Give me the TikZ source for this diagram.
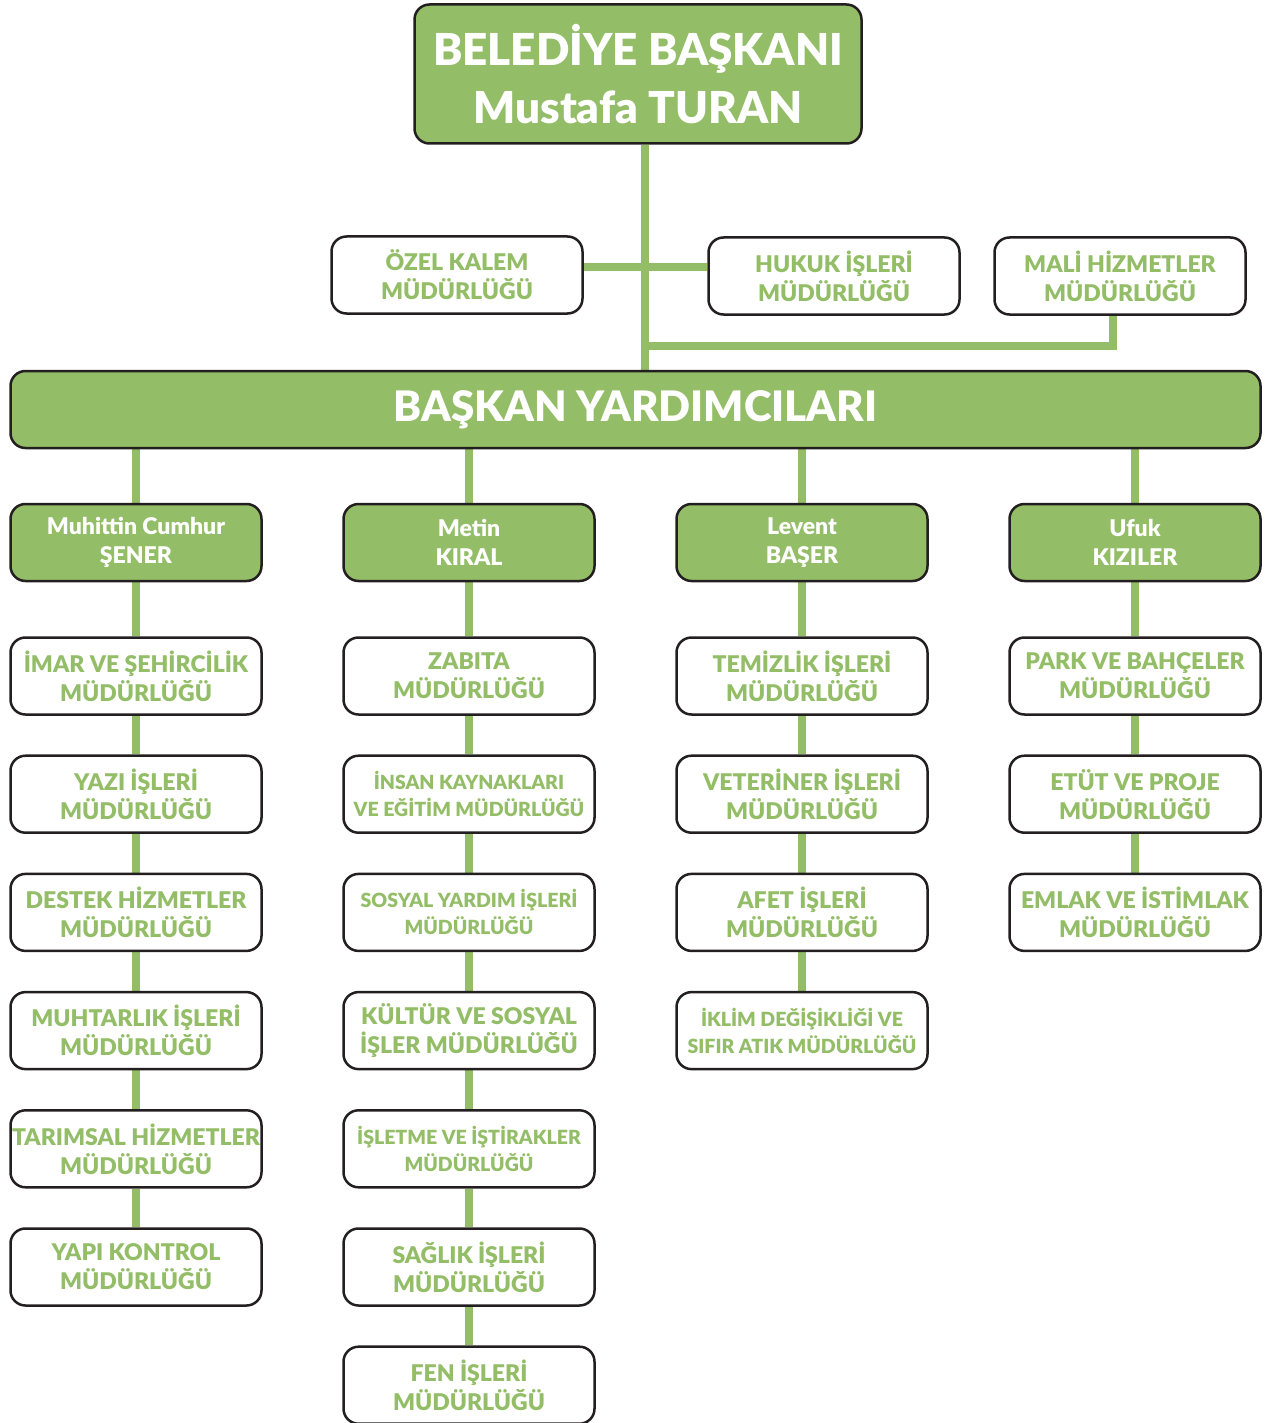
\documentclass[tikz,border=0pt]{standalone}
\usepackage{fontspec}
\setmainfont{Lato}[BoldFont={Lato Black}]
\usepackage{xcolor}
\usepackage{tikz}
\usetikzlibrary{positioning,calc,backgrounds}

\definecolor{orgGreen}{HTML}{93BD66}
\definecolor{orgEdge}{HTML}{231F20}

\begin{document}
\begin{tikzpicture}[
				x=1pt, y=-1pt,
				node distance=38.7pt,
				box/.style={
					rectangle, rounded corners=15pt,
					draw=orgEdge, line width=2.5pt,
					minimum width=251pt, minimum height=77pt,
					inner sep=0pt, align=center,
					font=\bfseries\fontsize{23}{29}\selectfont
				},
				headbox/.style={box, fill=orgGreen, text=white},
				unitbox/.style={box, fill=white, text=orgGreen},
				smallunit/.style={unitbox, font=\bfseries\fontsize{19.5}{27}\selectfont},
				link/.style={draw=orgGreen, line width=8pt}
				]
				\useasboundingbox (0,0) rectangle (1269,1423);
				
				% Başkan
				\node[headbox, minimum width=447pt, minimum height=139pt,
					font=\bfseries\fontsize{44}{58}\selectfont] (boss) at (638,74)
					{BELEDİYE BAŞKANI\\Mustafa TURAN};
				
				% Doğrudan bağlı müdürlükler
				\node[unitbox] (ozel) at (457,275) {ÖZEL KALEM\\MÜDÜRLÜĞÜ};
				\node[unitbox] (hukuk) at (834,276) {HUKUK İŞLERİ\\MÜDÜRLÜĞÜ};
				\node[unitbox] (mali) at (1120,276) {MALİ HİZMETLER\\MÜDÜRLÜĞÜ};
				
				% Başkan yardımcıları şeridi
				\node[headbox, minimum width=1250pt, minimum height=77pt,
					font=\bfseries\fontsize{42}{50}\selectfont] (vice) at (635.5,409.5)
					{BAŞKAN YARDIMCILARI};
				
				% Yardımcılar
				\node[headbox] (h1) at (136,542.5) {Muhittin Cumhur\\ŞENER};
				\node[headbox] (h2) at (469,542.5) {Metin\\KIRAL};
				\node[headbox] (h3) at (802,542.5) {Levent\\BAŞER};
				\node[headbox] (h4) at (1135,542.5) {Ufuk\\KIZILER};
				
				% 1. sütun
				\node[unitbox, below=54pt of h1] (u11) {İMAR VE ŞEHİRCİLİK\\MÜDÜRLÜĞÜ};
				\node[unitbox, below=of u11] (u12) {YAZI İŞLERİ\\MÜDÜRLÜĞÜ};
				\node[unitbox, below=of u12] (u13) {DESTEK HİZMETLER\\MÜDÜRLÜĞÜ};
				\node[unitbox, below=of u13] (u14) {MUHTARLIK İŞLERİ\\MÜDÜRLÜĞÜ};
				\node[unitbox, below=of u14] (u15) {TARIMSAL HİZMETLER\\MÜDÜRLÜĞÜ};
				\node[unitbox, below=of u15] (u16) {YAPI KONTROL\\MÜDÜRLÜĞÜ};
				
				% 2. sütun
				\node[unitbox, below=54pt of h2] (u21) {ZABITA\\MÜDÜRLÜĞÜ};
				\node[smallunit, below=of u21] (u22) {İNSAN KAYNAKLARI\\VE EĞİTİM MÜDÜRLÜĞÜ};
				\node[smallunit, below=of u22] (u23) {SOSYAL YARDIM İŞLERİ\\MÜDÜRLÜĞÜ};
				\node[unitbox, below=of u23] (u24) {KÜLTÜR VE SOSYAL\\İŞLER MÜDÜRLÜĞÜ};
				\node[smallunit, below=of u24] (u25) {İŞLETME VE İŞTİRAKLER\\MÜDÜRLÜĞÜ};
				\node[unitbox, below=of u25] (u26) {SAĞLIK İŞLERİ\\MÜDÜRLÜĞÜ};
				\node[unitbox, below=of u26] (u27) {FEN İŞLERİ\\MÜDÜRLÜĞÜ};
				
				% 3. sütun
				\node[unitbox, below=54pt of h3] (u31) {TEMİZLİK İŞLERİ\\MÜDÜRLÜĞÜ};
				\node[unitbox, below=of u31] (u32) {VETERİNER İŞLERİ\\MÜDÜRLÜĞÜ};
				\node[unitbox, below=of u32] (u33) {AFET İŞLERİ\\MÜDÜRLÜĞÜ};
				\node[smallunit, below=of u33] (u34) {İKLİM DEĞİŞİKLİĞİ VE\\SIFIR ATIK MÜDÜRLÜĞÜ};
				
				% 4. sütun
				\node[unitbox, below=54pt of h4] (u41) {PARK VE BAHÇELER\\MÜDÜRLÜĞÜ};
				\node[unitbox, below=of u41] (u42) {ETÜT VE PROJE\\MÜDÜRLÜĞÜ};
				\node[unitbox, below=of u42] (u43) {EMLAK VE İSTİMLAK\\MÜDÜRLÜĞÜ};
				
				% Bağlantı çizgileri
				\begin{scope}[on background layer]
					\coordinate (trunk) at (645,0);
					\coordinate (kalemhat) at (0,267);
					\coordinate (malihat) at (1113,346);
					\draw[link] (boss.south -| trunk) -- (vice.north -| trunk);
					\draw[link] (ozel.east |- kalemhat) -- (hukuk.west |- kalemhat);
					\draw[link] (mali.south -| malihat) -- (malihat) -- (malihat -| trunk);
					
					\draw[link] (vice.south -| h1) -- (h1.north);
					\draw[link] (vice.south -| h2) -- (h2.north);
					\draw[link] (vice.south -| h3) -- (h3.north);
					\draw[link] (vice.south -| h4) -- (h4.north);
					
					\draw[link] (h1) -- (u11) -- (u12) -- (u13) -- (u14) -- (u15) -- (u16);
					\draw[link] (h2) -- (u21) -- (u22) -- (u23) -- (u24) -- (u25) -- (u26) -- (u27);
					\draw[link] (h3) -- (u31) -- (u32) -- (u33) -- (u34);
					\draw[link] (h4) -- (u41) -- (u42) -- (u43);
				\end{scope}
				
			\end{tikzpicture}
\end{document}
